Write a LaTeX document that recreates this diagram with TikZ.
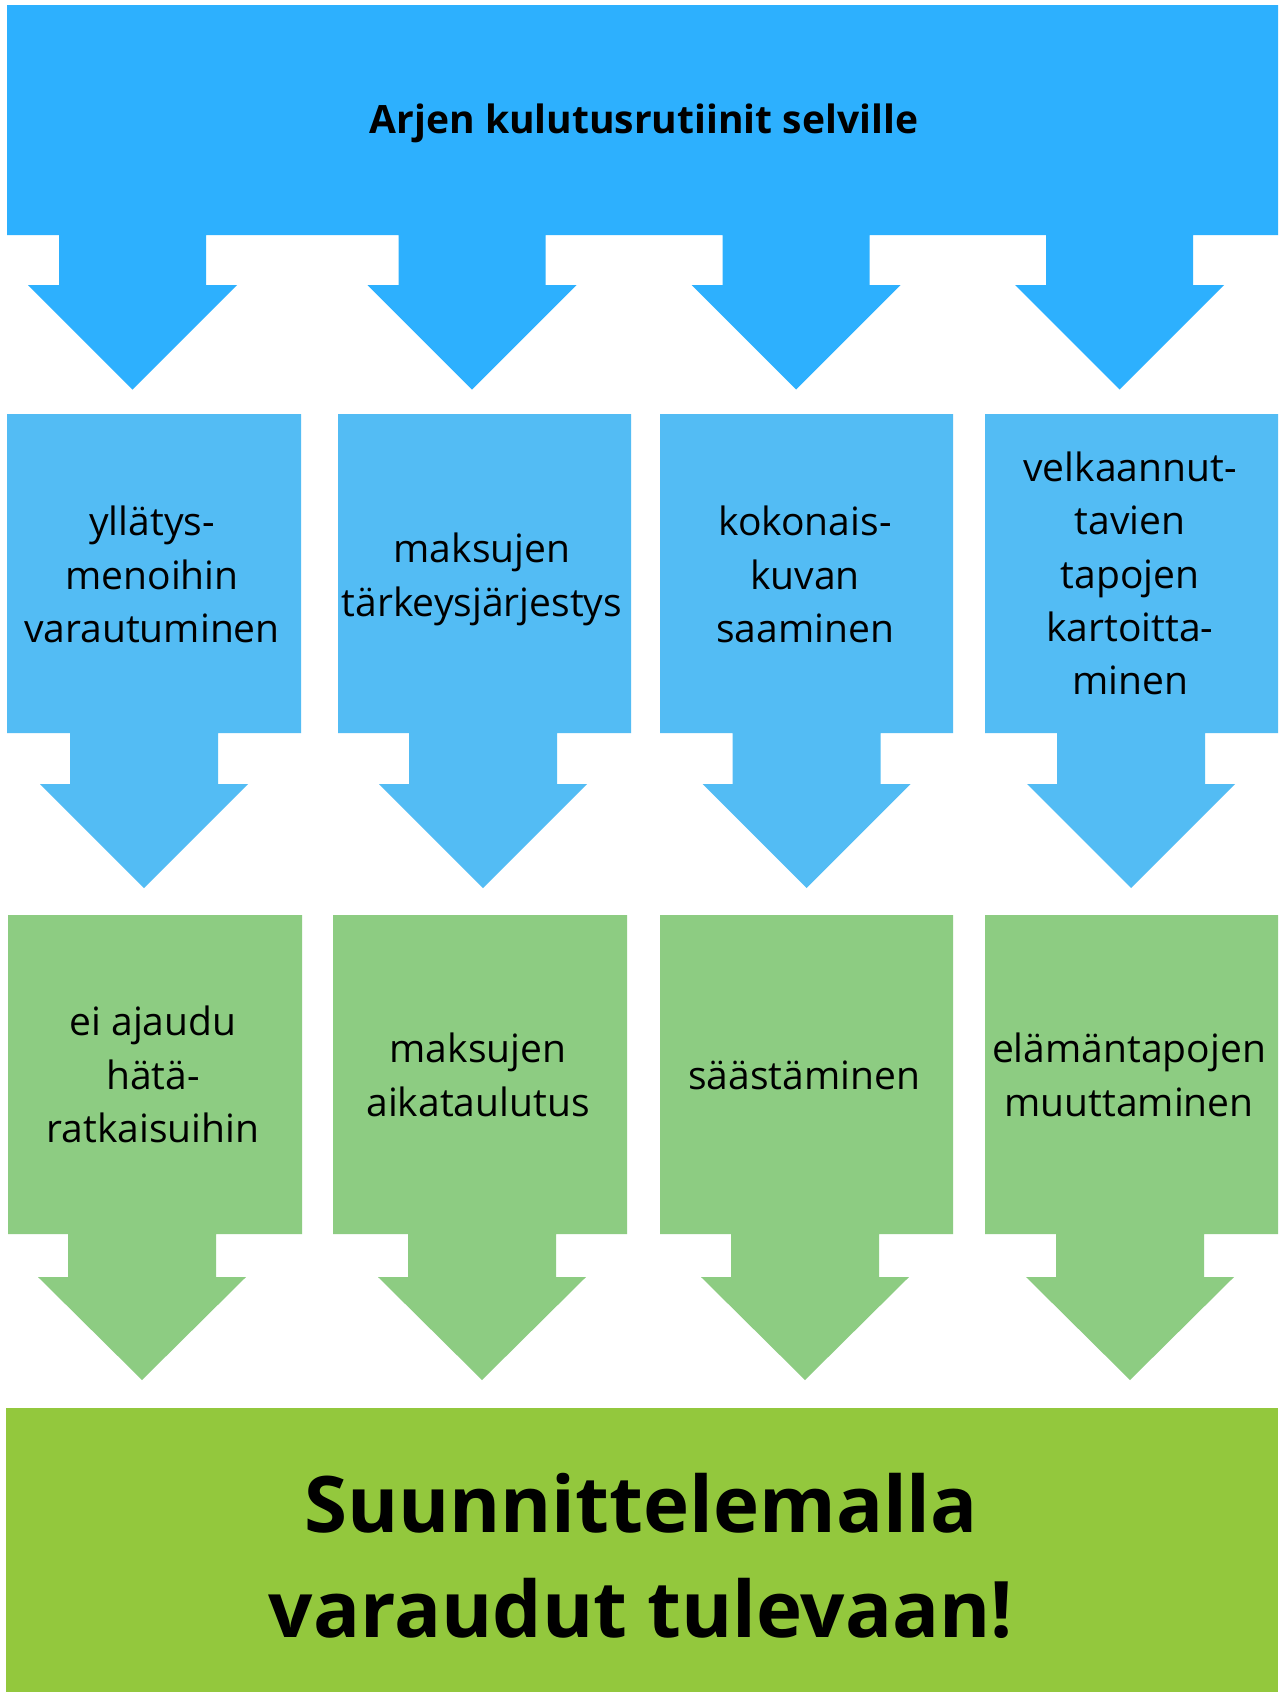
\documentclass[tikz,border=0pt]{standalone}
\usepackage{fontspec}
\setmainfont{Open Sans}
\definecolor{topblue}{RGB}{45,176,254}
\definecolor{midblue}{RGB}{83,188,244}
\definecolor{midgreen}{RGB}{141,204,130}
\definecolor{botgreen}{RGB}{147,200,61}
% colour, x1, x2, ytop, ybot, arrow centre, shaft bottom, tip
\newcommand{\boxarrow}[8]{%
  \fill[#1] (#2,#4) -- (#3,#4) -- (#3,#5) -- ({#6+74},#5) -- ({#6+74},#7) -- ({#6+104},#7)
    -- (#6,#8) -- ({#6-104},#7) -- ({#6-74},#7) -- ({#6-74},#5) -- (#2,#5) -- cycle;}
\begin{document}
\begin{tikzpicture}[x=1pt,y=-1pt,
  lbl/.style={font=\fontsize{39}{53.3}\selectfont, align=center, inner sep=0pt, text=black},
  titlelbl/.style={font=\fontsize{39}{53}\selectfont\bfseries, inner sep=0pt, anchor=base, text=black},
  biglbl/.style={font=\fontsize{78}{105}\selectfont\bfseries, align=center, inner sep=0pt, text=black}]
\useasboundingbox (0,0) rectangle (1279,1692);
\fill[white] (0,0) rectangle (1279,1692);

% top banner with four arrows
\fill[topblue] (7,5) -- (1278,5) -- (1278,235)
  -- (1193,235) -- (1193,285) -- (1224,285) -- (1119.5,389.5) -- (1015,285) -- (1046,285) -- (1046,235)
  -- (869.5,235) -- (869.5,285) -- (900.5,285) -- (796,389.5) -- (691.5,285) -- (722.5,285) -- (722.5,235)
  -- (545.5,235) -- (545.5,285) -- (576.5,285) -- (472,389.5) -- (367.5,285) -- (398.5,285) -- (398.5,235)
  -- (206,235) -- (206,285) -- (237,285) -- (132.5,389.5) -- (28,285) -- (59,285) -- (59,235)
  -- (7,235) -- cycle;
\node[titlelbl] (title) at (644,133) {Arjen kulutusrutiinit selville};

% second row
\boxarrow{midblue}{7}{301}{414}{733}{144}{784}{888}
\boxarrow{midblue}{338}{631}{414}{733}{483}{784}{888}
\boxarrow{midblue}{660}{953}{414}{733}{806.7}{784}{888}
\boxarrow{midblue}{985}{1278}{414}{733}{1131}{784}{888}
\node[lbl] (b1) at (152,578.5) {yllätys-\strut\\menoihin\strut\\varautuminen\strut};
\node[lbl] (b2) at (482,578.7) {maksujen\strut\\tärkeysjärjestys\strut};
\node[lbl] (b3) at (805,578.5) {kokonais-\strut\\kuvan\strut\\saaminen\strut};
\node[lbl] (b4) at (1130,577.5) {velkaannut-\strut\\tavien\strut\\tapojen\strut\\kartoitta-\strut\\minen\strut};

% third row
\boxarrow{midgreen}{8}{302}{915}{1234}{142}{1277}{1380}
\boxarrow{midgreen}{333}{627}{915}{1234}{482}{1277}{1380}
\boxarrow{midgreen}{660}{953}{915}{1234}{805}{1277}{1380}
\boxarrow{midgreen}{985}{1278}{915}{1234}{1130}{1277}{1380}
\node[lbl] (g1) at (153,1078.6) {ei ajaudu\strut\\hätä-\strut\\ratkaisuihin\strut};
\node[lbl] (g2) at (478,1078.7) {maksujen\strut\\aikataulutus\strut};
\node[lbl] (g3) at (804,1078.7) {säästäminen\strut};
\node[lbl] (g4) at (1129,1078.7) {elämäntapojen\strut\\muuttaminen\strut};

% bottom banner
\fill[botgreen] (6,1408) rectangle (1278,1692);
\node[biglbl] (final) at (641,1563.5) {Suunnittelemalla\strut\\varaudut tulevaan!\strut};
\end{tikzpicture}
\end{document}
